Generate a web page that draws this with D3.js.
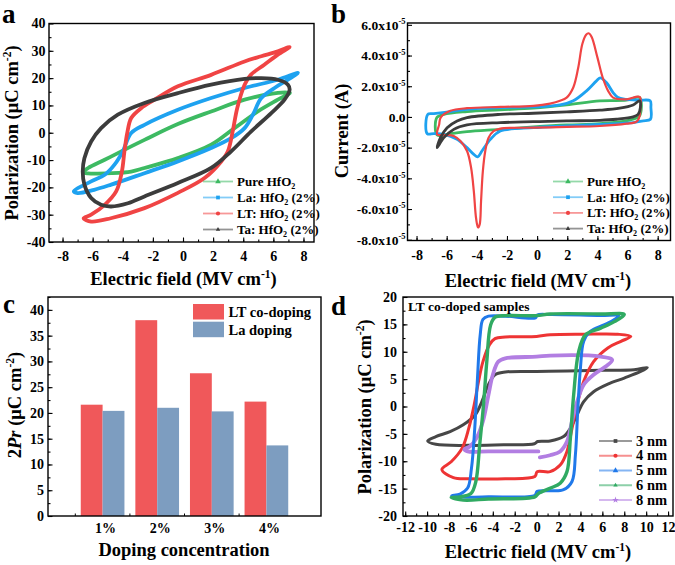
<!DOCTYPE html>
<html>
<head>
<meta charset="utf-8">
<script src="https://cdn.jsdelivr.net/npm/d3@7"></script>
<style>
  body { margin: 0; background: #fff; }
  svg text { font-family: "Liberation Serif", "Times New Roman", serif; font-weight: bold; fill: #000; }
</style>
</head>
<body>
<svg id="fig" width="675" height="565"></svg>
<script>
// ── Data: panel a, P-E loops (E in MV/cm, P in µC/cm²) ───────────────────────
const aPure = [[7.1,14.6],[6.3,14.6],[4.09,12.1],[1.87,7.8],[-0.34,3.2],[-2.56,-2.6],[-4.1,-6.8],[-5.2,-9.9],[-6.3,-12.9],[-6.65,-14.5],
  [-6.3,-14.9],[-4.77,-14.8],[-3.44,-14.2],[-2.56,-12.9],[-0.34,-9.3],[1.87,-4.4],[3.42,1.7],[4.97,7.8],[6.3,12.1]];
const aLa = [[7.63,21.9],[6.3,19.4],[4.09,16.4],[1.87,12.7],[-0.34,8.4],[-2.56,2.9],[-3.44,-0.1],[-4.0,-6.8],[-4.55,-11.7],[-5.2,-15.4],[-6.1,-17.8],[-7.25,-21.5],
  [-7.0,-22.1],[-5.9,-20.9],[-4.77,-19],[-2.56,-14.8],[-0.34,-10.5],[1.87,-5.6],[3.2,-2],[4.09,1.7],[4.64,6.6],[5.2,12.7],[6.08,16.4],[6.97,19.4]];
const aLT = [[7.08,31.4],[6.3,29.8],[5.2,28],[4.09,26.1],[1.87,21.2],[-0.34,17],[-1.89,12.1],[-2.78,9],[-3.44,5.4],[-3.7,0],[-3.89,-6.8],[-4.06,-14.2],[-4.44,-21.5],[-5.2,-26.4],[-6.1,-30],[-6.6,-31.3],
  [-6.1,-32.5],[-4.8,-31.3],[-2.56,-27.6],[-0.34,-22],[1.43,-16.6],[2.54,-10.5],[2.98,-6.8],[3.3,0.5],[3.6,9],[4.09,17.6],[4.5,21.2],[5.4,24.9],[6.3,28.6]];
const aTa = [[7.08,15.7],[6.97,17.6],[6.3,19.4],[5.2,20.0],[4.09,19.7],[1.87,17.6],[-0.34,14.5],[-2.56,10.9],[-4.33,6.6],[-5.44,1.7],[-6.1,-3.2],[-6.55,-9.3],[-6.66,-14.2],[-6.55,-19],
  [-6.1,-23.9],[-5.44,-26.4],[-4.77,-27],[-3.66,-25.8],[-2.56,-23.3],[-0.34,-18.4],[1.87,-12.9],[3.2,-6.8],[4.53,0.5],[5.86,7.2],[6.74,12.1]];

// ── Data: panel b, I-E loops (E in MV/cm, I in units of 1e-5 A) ──────────────
const bPure = [[-6.63,-1.18],[-6.65,-0.04],[-6.19,0.17],[-4.65,0.35],[-2.44,0.46],[-0.24,0.57],[1.96,0.78],[4.16,1.05],[5.93,1.09],[6.8,1.26],
  [6.8,0.07],[6.37,-0.15],[4.16,-0.44],[1.96,-0.52],[-0.24,-0.65],[-2.44,-0.81],[-4.65,-0.96],[-5.75,-1.09]];
const bLa = [[-7.29,-1.09],[-7.25,0.17],[-6.85,0.22],[-5.75,0.35],[-4.65,0.5],[-2.44,0.61],[-0.24,0.65],[1.52,0.78],[2.4,1.05],[3.28,1.7],[3.94,2.35],[4.2,2.55],[4.6,2.24],[5.04,1.59],[5.37,1.26],[5.93,1.15],[6.8,1.09],[7.5,1.05],
  [7.55,0.6],[7.52,-0.15],[7.03,-0.26],[6.37,-0.37],[4.16,-0.48],[1.96,-0.59],[-0.24,-0.70],[-2.44,-0.92],[-3.1,-1.46],[-3.66,-2.22],[-3.94,-2.6],[-4.2,-2.44],[-4.65,-2.0],[-5.31,-1.46],[-6.19,-1.13],[-6.85,-1.09]];
const bLT = [[-6.63,-1.13],[-6.5,-0.5],[-6.4,-0.04],[-5.75,0.4],[-4.65,0.57],[-2.44,0.65],[-0.24,0.72],[0.86,0.87],[1.52,1.05],[1.96,1.26],[2.4,1.92],[2.73,3.22],[3.0,4.75],[3.25,5.35],[3.42,5.45],[3.62,5.2],[4.0,3.88],[4.35,2.57],[4.71,1.7],[5.04,1.26],[5.93,1.15],[6.8,1.3],
  [6.85,0.5],[6.75,-0.1],[6.59,-0.31],[5.93,-0.44],[4.16,-0.59],[1.96,-0.65],[-0.24,-0.70],[-2.44,-0.76],[-2.89,-0.92],[-3.22,-1.35],[-3.44,-2.22],[-3.6,-3.53],[-3.72,-5.49],[-3.81,-7.0],[-3.92,-7.2],[-4.05,-6.6],[-4.2,-4.84],[-4.38,-3.31],[-4.65,-2.22],[-5.09,-1.57],[-5.53,-1.24],[-6.19,-1.18]];
const bTa = [[-6.63,-2.0],[-6.41,-1.35],[-5.97,-0.7],[-5.31,-0.26],[-4.65,-0.04],[-2.44,0.17],[-0.24,0.24],[1.96,0.33],[4.16,0.44],[5.48,0.57],[6.37,0.78],[6.8,1.05],
  [6.85,0.61],[6.7,0.17],[6.37,0],[5.26,-0.15],[4.16,-0.22],[1.96,-0.26],[-0.24,-0.31],[-2.44,-0.37],[-4.65,-0.52],[-5.53,-0.81],[-6.19,-1.35]];

// ── Data: panel c, 2Pr bars ───────────────────────────────────────────────────
const cCategories = ["1%", "2%", "3%", "4%"];
const cLTcoDoping = [21.6, 38.0, 27.7, 22.2];
const cLaDoping   = [20.4, 21.0, 20.3, 13.7];

// ── Data: panel d, thickness series ───────────────────────────────────────────
const d3nm = [[10.1,7.1],[8.9,6.7],[5.85,6.6],[2.8,6.5],[0,6.4],[-2.86,6.3],[-3.8,5.8],[-4.4,4.0],[-5.0,0.9],[-5.6,-1.5],[-6.7,-3.35],[-7.9,-4.6],[-9.2,-5.5],[-9.95,-6.3],
  [-9.2,-6.9],[-6.0,-7.1],[-2.86,-7.0],[-0.2,-6.8],[0.1,-6.4],[1.23,-6.3],[2.46,-5.5],[3.08,-4.0],[3.7,-1.5],[4.3,0.9],[5.2,2.7],[6.5,4.1],[8.0,5.2],[9.5,6.4]];
const d4nm = [[8.6,12.8],[7.4,13.2],[4.3,13.2],[1.23,13.1],[0,12.8],[-2.86,12.7],[-3.8,12.4],[-4.3,11.3],[-4.9,8.2],[-5.3,4.6],[-5.7,0.3],[-6.2,-4.0],[-6.8,-7.6],[-7.8,-10.1],[-8.65,-11.5],
  [-7.6,-13.0],[-6.0,-13.2],[-2.86,-13.2],[-0.16,-12.8],[0.05,-11.9],[1.23,-11.9],[2.15,-10.7],[2.77,-8.2],[3.23,-4.0],[3.7,0.3],[4.3,4.6],[5.2,8.2],[6.5,10.7],[7.7,11.9]];
const d5nm = [[7.5,16.6],[5.85,16.6],[1.23,16.8],[0.05,16.7],[-0.1,16.2],[-2.86,16.5],[-4.4,16.5],[-4.9,15.9],[-5.15,13.1],[-5.4,5.2],[-5.65,-4.0],[-5.95,-11.3],[-6.3,-14.9],[-7.0,-16.0],[-7.75,-16.3],
  [-7.3,-16.5],[-4.4,-16.5],[-0.16,-16.2],[0.05,-15.5],[1.23,-15.4],[2.46,-15.2],[3.23,-13.7],[3.54,-8.8],[3.75,-0.9],[4.0,7.0],[4.3,11.9],[4.9,13.7],[6.15,14.9],[7.1,15.9]];
const d6nm = [[8.0,16.8],[5.85,16.9],[1.23,16.9],[0,16.6],[-2.86,16.6],[-3.8,16.3],[-4.2,14.9],[-4.55,8.2],[-4.85,0.3],[-5.2,-7.0],[-5.55,-13.7],[-6.0,-15.9],[-7.0,-16.5],[-7.8,-16.6],
  [-6.7,-17.1],[-4.4,-16.9],[-0.16,-16.5],[0.16,-15.9],[1.27,-14.9],[2.15,-14.0],[2.77,-11.9],[3.08,-5.8],[3.38,2.1],[3.85,10.1],[4.46,13.1],[5.85,14.3],[7.1,15.5]];
const d8nm = [[0.3,-9.3],[1.23,-8.9],[2.15,-8.2],[2.77,-6.4],[3.23,-2.7],[3.7,0.9],[4.3,4.0],[5.2,5.8],[6.3,7.3],[6.9,8.5],[5.85,9.1],[1.23,9.3],[0,9.1],[-2.86,8.8],[-3.5,8.2],[-4.0,5.8],
  [-4.4,2.1],[-4.9,-2.7],[-5.5,-5.8],[-6.1,-7.3],[-6.6,-7.8],[-6.3,-8.2],[-4.4,-8.2],[0.16,-8.2]];

// ── Shared helpers ────────────────────────────────────────────────────────────
const svg = d3.select("#fig");
const plainNum = d => String(d);
const TICK_FONT = 14;

// text with sub/superscripts, offsets in pixels
function richText(g, x, y, parts, size, anchor, rotate) {
  const t = g.append("text").attr("font-size", size).attr("text-anchor", anchor || "start");
  if (rotate) t.attr("transform", `translate(${x},${y}) rotate(-90)`);
  else t.attr("x", x).attr("y", y);
  let cur = 0;
  parts.forEach(([s, kind]) => {
    const sp = t.append("tspan").text(s);
    let off = 0;
    if (kind === "sup") { off = -0.4 * size; sp.attr("font-size", size * 0.62); }
    if (kind === "sub") { off = 0.2 * size; sp.attr("font-size", size * 0.62); }
    if (kind === "it") sp.attr("font-style", "italic");
    if (off !== cur) { sp.attr("dy", off - cur); cur = off; }
  });
  return t;
}

function frameAxes(box, xDom, yDom, opt) {
  const x = d3.scaleLinear().domain(xDom).range([box.x0, box.x1]);
  const y = d3.scaleLinear().domain(yDom).range([box.y1, box.y0]);
  const g = svg.append("g");

  const styleAxis = sel => {
    sel.attr("font-family", null).attr("font-size", null);
    sel.select(".domain").remove();
    sel.selectAll("line").attr("stroke", "#000").attr("stroke-width", 1.1);
    sel.selectAll("text").attr("font-size", TICK_FONT);
  };

  if (opt.xMinor) g.append("g").attr("transform", `translate(0,${box.y1})`)
    .call(d3.axisBottom(x).tickValues(opt.xMinor).tickSize(-2.5).tickFormat("")).call(styleAxis);
  if (opt.xMajor) g.append("g").attr("transform", `translate(0,${box.y1})`)
    .call(d3.axisBottom(x).tickValues(opt.xMajor).tickSize(-4.5).tickPadding(opt.xPad).tickFormat(plainNum)).call(styleAxis);
  g.append("g").attr("transform", `translate(${box.x0},0)`)
    .call(d3.axisLeft(y).tickValues(opt.yMinor).tickSize(-2.5).tickFormat("")).call(styleAxis);
  const ya = g.append("g").attr("transform", `translate(${box.x0},0)`)
    .call(d3.axisLeft(y).tickValues(opt.yMajor).tickSize(-4.5).tickPadding(opt.yPad).tickFormat(plainNum)).call(styleAxis);

  const plot = svg.append("g");
  svg.append("rect")
    .attr("x", box.x0).attr("y", box.y0)
    .attr("width", box.x1 - box.x0).attr("height", box.y1 - box.y0)
    .attr("fill", "none").attr("stroke", "#000").attr("stroke-width", 1.4);
  return { x, y, g, plot, ya };
}

const range = (a, b, s) => d3.range(a, b + s / 2, s);

function drawLoop(plot, x, y, pts, color, width, closed) {
  const line = d3.line().x(d => x(d[0])).y(d => y(d[1]))
    .curve(closed ? d3.curveCatmullRomClosed.alpha(0.5) : d3.curveCatmullRom.alpha(0.5));
  plot.append("path").attr("d", line(pts))
    .attr("fill", "none").attr("stroke", color).attr("stroke-width", width)
    .attr("stroke-linejoin", "round").attr("stroke-linecap", "round");
}

function legendRow(g, x0, x1, yy, color, sym, label, size) {
  g.append("line").attr("x1", x0).attr("x2", x1).attr("y1", yy).attr("y2", yy)
    .attr("stroke", color).attr("stroke-opacity", 0.55).attr("stroke-width", 1.8);
  g.append("path").attr("d", d3.symbol().type(sym).size(14)())
    .attr("transform", `translate(${(x0 + x1) / 2},${yy})`).attr("fill", color);
  richText(g, x1 + 4, yy + 4.5, label, size, "start");
}

const hfLegend = [
  [d3.symbolTriangle, [["Pure HfO"], ["2", "sub"]]],
  [d3.symbolSquare, [["La: HfO"], ["2", "sub"], [" (2%)"]]],
  [d3.symbolCircle, [["LT: HfO"], ["2", "sub"], [" (2%)"]]],
  [d3.symbolTriangle2, [["Ta: HfO"], ["2", "sub"], [" (2%)"]]],
];

// ── Panel a ──────────────────────────────────────────────────────────────────
const colA = ["#3dba62", "#1ea2f0", "#f04444", "#3c3c3c"];
{
  const box = { x0: 49, x1: 314, y0: 23.5, y1: 242 };
  const { x, y, plot } = frameAxes(box, [-8.9, 8.7], [-40, 40], {
    xMajor: range(-8, 8, 2), xMinor: range(-8, 8, 1), xPad: 9,
    yMajor: range(-40, 40, 10), yMinor: range(-35, 35, 5), yPad: 3.5,
  });
  [aPure, aLa, aLT, aTa].forEach((s, i) => drawLoop(plot, x, y, s, colA[i], 3.8, true));

  const lg = svg.append("g");
  hfLegend.forEach((r, i) => legendRow(lg, 203, 233, 181.5 + i * 16, colA[i], r[0], r[1], 13));
  richText(svg, 183.5, 285, [["Electric field (MV cm"], ["-1", "sup"], [")"]], 18.5, "middle");
  richText(svg, 18, 133, [["Polarization (μC cm"], ["-2", "sup"], [")"]], 18.5, "middle", true);
  svg.append("text").attr("x", 2).attr("y", 23).attr("font-size", 27).text("a");
}

// ── Panel b ──────────────────────────────────────────────────────────────────
{
  const box = { x0: 407.5, x1: 670.5, y0: 23, y1: 240.5 };
  const { x, y, plot, ya } = frameAxes(box, [-8.6, 8.85], [-8.05, 6.12], {
    xMajor: range(-8, 8, 2), xMinor: range(-8, 8, 1), xPad: 10,
    yMajor: range(-8, 6, 2), yMinor: range(-7, 5, 1), yPad: 2,
  });
  // scientific tick labels with superscript exponent
  ya.selectAll(".tick text").each(function (d) {
    const t = d3.select(this).text(null).attr("font-size", 13.5);
    if (d === 0) { t.text("0.0"); return; }
    t.append("tspan").text(d.toFixed(1) + "x10");
    t.append("tspan").text("-5").attr("font-size", 8.5).attr("dy", -5.5);
  });
  [bPure, bLa, bLT, bTa].forEach((s, i) => drawLoop(plot, x, y, s, colA[i], i === 2 ? 2.2 : 2.8, true));

  const lg = svg.append("g");
  hfLegend.forEach((r, i) => legendRow(lg, 553, 583, 181.5 + i * 15.7, colA[i], r[0], r[1], 13));
  richText(svg, 538, 287, [["Electric field (MV cm"], ["-1", "sup"], [")"]], 18.5, "middle");
  richText(svg, 348, 131, [["Current (A)"]], 18.5, "middle", true);
  svg.append("text").attr("x", 331).attr("y", 23).attr("font-size", 27).text("b");
}

// ── Panel c ──────────────────────────────────────────────────────────────────
{
  const box = { x0: 48, x1: 321, y0: 297, y1: 516 };
  const { y, plot } = frameAxes(box, [0, 1], [0, 42.5], {
    yMajor: range(0, 40, 5), yMinor: range(2.5, 42.5, 2.5), yPad: 4,
  });
  const xb = d3.scaleBand().domain(cCategories).range([box.x0, box.x1]).paddingInner(0.2).paddingOuter(0.6);
  const xs = d3.scaleBand().domain(["lt", "la"]).range([0, xb.bandwidth()]);
  const series = [["lt", cLTcoDoping, "#f0585a"], ["la", cLaDoping, "#7d9dc0"]];
  series.forEach(([key, vals, col]) => {
    plot.selectAll(null).data(vals).enter().append("rect")
      .attr("x", (d, i) => xb(cCategories[i]) + xs(key))
      .attr("width", xs.bandwidth())
      .attr("y", d => y(d)).attr("height", d => y(0) - y(d))
      .attr("fill", col);
  });
  const ax = svg.append("g").attr("transform", `translate(0,${box.y1})`)
    .call(d3.axisBottom(xb).tickSize(0).tickPadding(7))
    .attr("font-family", null).attr("font-size", null);
  ax.select(".domain").remove();
  ax.selectAll("text").attr("font-size", TICK_FONT).attr("dx", 3);
  // small boundary ticks between groups
  svg.append("g").selectAll("line").data(cCategories).enter().append("line")
    .attr("x1", d => xb(d) - xb.step() * 0.1).attr("x2", d => xb(d) - xb.step() * 0.1)
    .attr("y1", box.y1).attr("y2", box.y1 - 2.5).attr("stroke", "#000");

  // legend
  svg.append("rect").attr("x", 193).attr("y", 304).attr("width", 31).attr("height", 15.5).attr("fill", "#f0585a");
  svg.append("rect").attr("x", 193).attr("y", 321.7).attr("width", 31).attr("height", 15.5).attr("fill", "#7d9dc0");
  svg.append("text").attr("x", 228.5).attr("y", 316.5).attr("font-size", 14.5).text("LT co-doping");
  svg.append("text").attr("x", 228.5).attr("y", 334.5).attr("font-size", 14.5).text("La doping");

  richText(svg, 184, 556, [["Doping concentration"]], 18.5, "middle");
  richText(svg, 21, 405, [["2"], ["Pr", "it"], [" (μC cm"], ["-2", "sup"], [")"]], 18.5, "middle", true);
  svg.append("text").attr("x", 3).attr("y", 313).attr("font-size", 27).text("c");
}

// ── Panel d ──────────────────────────────────────────────────────────────────
{
  const box = { x0: 403, x1: 673, y0: 297, y1: 516 };
  const colD = ["#474747", "#ee3434", "#2079ea", "#30aa62", "#b27ee2"];
  const { x, y, plot } = frameAxes(box, [-12.2, 12.45], [-20, 20], {
    xMajor: range(-12, 12, 2), xMinor: range(-12, 12, 1), xPad: 6,
    yMajor: range(-20, 20, 5), yMinor: range(-17.5, 17.5, 2.5), yPad: 6,
  });
  drawLoop(plot, x, y, d3nm, colD[0], 3, true);
  drawLoop(plot, x, y, d4nm, colD[1], 3, true);
  drawLoop(plot, x, y, d8nm, colD[4], 3.8, false);
  drawLoop(plot, x, y, d5nm, colD[2], 3, true);
  drawLoop(plot, x, y, d6nm, colD[3], 3.4, true);

  const lg = svg.append("g");
  const rows = [
    [d3.symbolSquare, "3 nm"], [d3.symbolCircle, "4 nm"], [d3.symbolTriangle, "5 nm"],
    [d3.symbolTriangle2, "6 nm"], [d3.symbolStar, "8 nm"],
  ];
  rows.forEach((r, i) => legendRow(lg, 599, 632, 441 + i * 14.75, colD[i], r[0], [[r[1]]], 14.5));
  svg.append("text").attr("x", 408).attr("y", 311).attr("font-size", 13.5).text("LT co-doped samples");

  richText(svg, 538, 558, [["Electric field (MV cm"], ["-1", "sup"], [")"]], 18.5, "middle");
  richText(svg, 371, 407, [["Polarization (μC cm"], ["-2", "sup"], [")"]], 18.5, "middle", true);
  svg.append("text").attr("x", 331).attr("y", 315).attr("font-size", 27).text("d");
}
</script>
</body>
</html>
